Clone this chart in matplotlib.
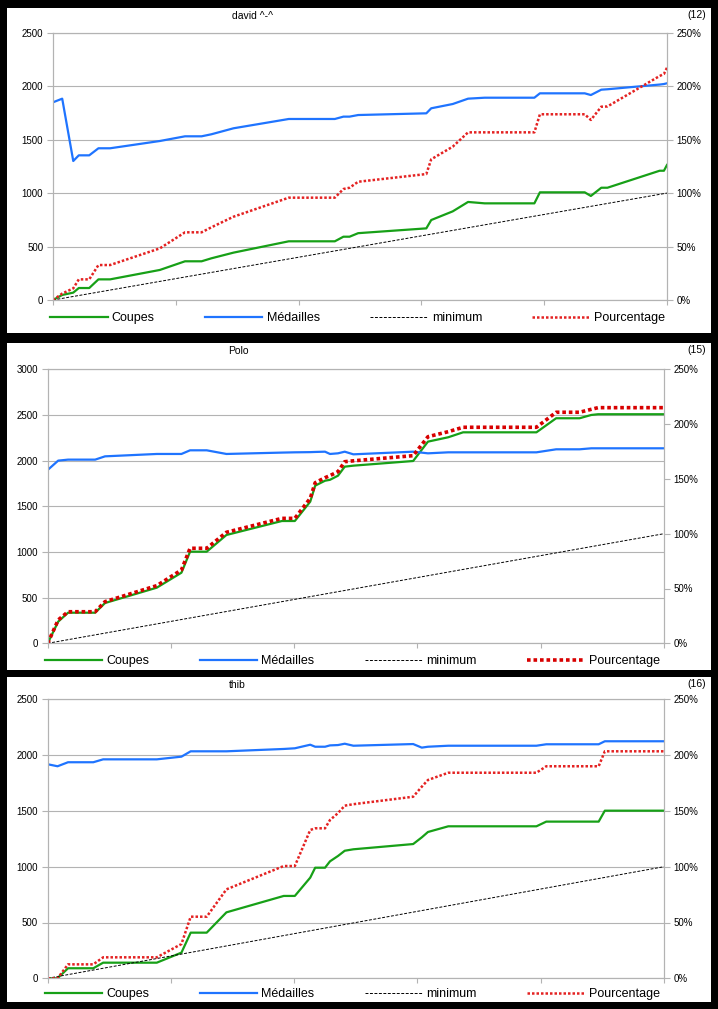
import matplotlib
matplotlib.use("Agg")
import matplotlib.pyplot as plt
from matplotlib.patches import Rectangle
from matplotlib.ticker import FuncFormatter

plt.rcParams['font.family'] = ['Liberation Sans', 'DejaVu Sans']

# x = position along the period (0..100), shared by all series of a panel
david_x = [0, 1.5, 3.3, 4.2, 5.9, 7.4, 9.3, 17.4, 21.5, 24.2, 25.8, 29.4, 38.4, 45.9, 47.3, 48.3,
           49.7, 60.8, 61.6, 65.1, 67.6, 70.3, 78.4, 79.3, 86.6, 87.6, 89.3, 90.3, 98.8, 99.5, 100]
david_coupes = [0, 47, 69, 112, 112, 193, 193, 281, 362, 362, 390, 443, 549, 549, 592, 592,
                625, 670, 748, 829, 917, 904, 904, 1007, 1007, 973, 1050, 1050, 1209, 1209, 1263]
david_medailles = [1849, 1883, 1300, 1353, 1353, 1419, 1419, 1487, 1531, 1531, 1550, 1606, 1693, 1693, 1715, 1715,
                   1730, 1746, 1793, 1833, 1883, 1892, 1892, 1933, 1933, 1917, 1967, 1971, 2015, 2020, 2027]
david_pct = [0, 6, 10.9, 19.3, 19.3, 32.7, 32.7, 48.3, 63.3, 63.3, 68, 77.9, 95.7, 95.7, 103.8, 105,
             110.6, 117.8, 131.6, 143.4, 156.8, 156.8, 156.8, 173.7, 173.7, 168.4, 180.8, 181, 209.5, 211.4, 217.3]

polo_x = [0, 1.7, 3.3, 7.7, 9.3, 17.7, 21.7, 23.1, 25.8, 29, 38, 40.1, 42.6, 43.4, 45, 45.8, 47.1,
          48.2, 49.6, 59.3, 61.7, 65, 67.4, 79.3, 82.5, 86.3, 88.2, 89.3, 100]
polo_coupes = [0, 237, 335, 335, 441, 609, 773, 1003, 1003, 1186, 1339, 1339, 1551, 1726, 1780, 1790, 1835,
               1934, 1945, 1996, 2208, 2256, 2310, 2310, 2464, 2464, 2500, 2508, 2508]
polo_medailles = [1898, 2000, 2011, 2011, 2047, 2073, 2073, 2113, 2113, 2073, 2088, 2091, 2093, 2095, 2098, 2073, 2080,
                  2098, 2069, 2098, 2080, 2091, 2091, 2091, 2124, 2124, 2135, 2135, 2135]
polo_pct = [0, 21.3, 28.8, 28.8, 38, 52.6, 66.9, 86.7, 86.7, 101.3, 114, 114, 132.3, 146.5, 151.1, 153, 156.6,
            165.7, 166.5, 171.2, 188.5, 193.1, 197.1, 197.1, 210.8, 210.8, 213.5, 215, 215]

thib_x = [0, 1.6, 3.3, 7.4, 9.0, 17.7, 21.7, 23.2, 25.8, 29.0, 38.3, 40.1, 42.6, 43.4, 45, 45.8, 47.1,
          48.2, 49.6, 59.3, 60.7, 61.7, 65, 79.3, 80.9, 89.4, 90.4, 100]
thib_coupes = [0, 0, 90, 90, 140, 140, 230, 409, 409, 591, 738, 738, 902, 991, 991, 1048, 1096,
               1143, 1156, 1203, 1263, 1311, 1362, 1362, 1404, 1404, 1502, 1502]
thib_medailles = [1918, 1900, 1936, 1936, 1962, 1962, 1986, 2034, 2034, 2034, 2055, 2061, 2093, 2075, 2075, 2087, 2090,
                  2102, 2084, 2099, 2067, 2075, 2084, 2084, 2097, 2097, 2124, 2124]
thib_pct = [0, 0, 12.5, 12.5, 18.8, 18.8, 30.7, 55.2, 55.2, 79.7, 100.6, 100.6, 132.9, 134.4, 134.4, 141.8, 148,
            154.7, 156, 162.7, 171.7, 177.7, 184.2, 184.2, 190, 190, 203.4, 203.4]

minimum_x = [0, 100]
minimum_pct = [0, 100]

W, H = 718, 1009
GRID = '#b3b3b3'
GREEN = '#17a017'
BLUE = '#1f74ff'
RED = '#e42222'

fig = plt.figure(figsize=(W / 100, H / 100), dpi=100, facecolor='black')


def px_rect(x0, y0, x1, y1):
    return [x0 / W, 1 - y1 / H, (x1 - x0) / W, (y1 - y0) / H]


def panel(frame, box, title, title_x, count, x, coupes, medailles, pct, ymax, ystep,
          red_lw=1.8, red_color=RED, leg_y=18):
    fig.patches.append(Rectangle(frame[:2], frame[2], frame[3], transform=fig.transFigure,
                                 facecolor='white', edgecolor='none', zorder=-1))
    ax = fig.add_axes(box)
    ax.set_facecolor('white')
    l1, = ax.plot(x, coupes, color=GREEN, lw=1.6, label='Coupes')
    l2, = ax.plot(x, medailles, color=BLUE, lw=1.6, label='Médailles')
    ax.set_xlim(0, 100)
    ax.set_ylim(0, ymax)
    ax.set_yticks(range(0, ymax + 1, ystep))
    ax.set_xticks([0, 20, 40, 60, 80, 100])
    ax.set_xticklabels([])
    ax.yaxis.grid(True, color=GRID, lw=0.8)
    ax.set_axisbelow(True)

    ax2 = ax.twinx()
    l3, = ax2.plot(minimum_x, minimum_pct, color='black', lw=0.7, dashes=(3, 1.6), label='minimum')
    l4, = ax2.plot(x, pct, color=red_color, lw=red_lw, dashes=(1.0, 0.8), label='Pourcentage')
    ax2.set_ylim(0, 250)
    ax2.set_yticks(range(0, 251, 50))
    ax2.yaxis.set_major_formatter(FuncFormatter(lambda v, p: '%d%%' % v))

    for a in (ax, ax2):
        for s in a.spines.values():
            s.set_color(GRID)
            s.set_linewidth(0.8)
        a.tick_params(axis='both', direction='out', color=GRID, width=0.8, length=4,
                      labelsize=7, pad=3)
    ax.tick_params(axis='x', length=3.5)

    # title and counter
    top = frame[1] + frame[3]
    fig.text(title_x / W, top - 8 / H, title, fontsize=7.5, ha='center', va='center')
    fig.text(706 / W, top - 7 / H, count, fontsize=7.5, ha='right', va='center')

    bh = box[3] * H
    ax2.legend([l1, l2, l3, l4], ['Coupes', 'Médailles', 'minimum', 'Pourcentage'],
               ncol=4, loc='center left', bbox_to_anchor=(-3 / (box[2] * W), -leg_y / bh),
               frameon=False, fontsize=9, handlelength=4.6, handletextpad=0.35,
               columnspacing=4.0, borderpad=0, borderaxespad=0)


panel(px_rect(7, 8, 711, 333), px_rect(53, 32.7, 667, 300), 'david ^-^', 253, '(12)',
      david_x, david_coupes, david_medailles, david_pct, 2500, 500)
panel(px_rect(7, 343, 711, 670), px_rect(47.7, 369.3, 664, 643.3), 'Polo', 238, '(15)',
      polo_x, polo_coupes, polo_medailles, polo_pct, 3000, 500,
      red_lw=2.6, red_color='#d80000')
panel(px_rect(7, 677, 711, 1002), px_rect(47.7, 699.3, 664, 978.3), 'thib', 237, '(16)',
      thib_x, thib_coupes, thib_medailles, thib_pct, 2500, 500, leg_y=16)

fig.savefig('out.png', dpi=100, facecolor='black')
